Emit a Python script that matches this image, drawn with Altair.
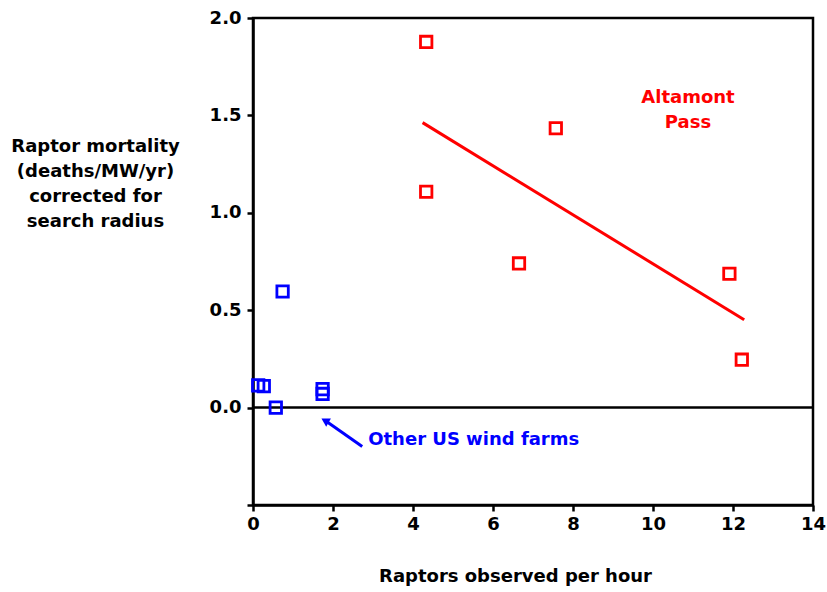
import altair as alt
import pandas as pd

# Altamont Pass observations
alt_x = [4.33, 7.57, 4.33, 6.65, 11.91, 12.22]
alt_y = [1.877, 1.434, 1.108, 0.74, 0.687, 0.246]

# Other US wind farms
other_x = [0.74, 0.13, 0.27, 0.57, 1.74, 1.74]
other_y = [0.596, 0.114, 0.11, 0.0, 0.095, 0.07]

# Regression line through the Altamont Pass sites
fit_x = [4.24, 12.28]
fit_y = [1.463, 0.451]

# Pointer for the "Other US wind farms" label
arrow_x = [2.73, 1.83]
arrow_y = [-0.2, -0.07]

RED = "#ff0000"
BLUE = "#0000ff"
FONT = "DejaVu Sans"
FS = 18

xs = alt.Scale(domain=[0, 14], nice=False, zero=False)
ys = alt.Scale(domain=[-0.5, 2.0], nice=False, zero=False)

x_axis = alt.Axis(
    values=list(range(0, 15, 2)), format="d", grid=False, labelFlush=False,
    domainColor="black", domainWidth=2.5, tickColor="black", tickWidth=2.5,
    tickSize=6, labelFont=FONT, labelFontSize=FS, labelFontWeight="bold",
    labelColor="black", labelPadding=4,
    title="Raptors observed per hour", titleFont=FONT, titleFontSize=FS,
    titleFontWeight="bold", titleColor="black", titlePadding=34,
    titleX=262, titleAlign="center",
)
y_axis = alt.Axis(
    values=[-0.5, 0, 0.5, 1.0, 1.5, 2.0], format=".1f", grid=False, labelFlush=False,
    labelExpr="datum.value < 0 ? '' : format(datum.value, '.1f')",
    domainColor="black", domainWidth=2.5, tickColor="black", tickWidth=2.5,
    tickSize=6, labelFont=FONT, labelFontSize=FS, labelFontWeight="bold",
    labelColor="black", labelPadding=6,
    title=["Raptor mortality", "(deaths/MW/yr)", "corrected for", "search radius"],
    titleFont=FONT, titleFontSize=FS, titleFontWeight="bold", titleColor="black",
    titleAngle=0, titleAlign="center", titleBaseline="top",
    titleX=-158, titleY=119, titleLineHeight=25.3,
)

df_alt = pd.DataFrame({"x": alt_x, "y": alt_y})
df_oth = pd.DataFrame({"x": other_x, "y": other_y})
df_fit = pd.DataFrame({"x": fit_x, "y": fit_y})
df_arrow = pd.DataFrame({"x": arrow_x, "y": arrow_y})

zero_line = alt.Chart(pd.DataFrame({"y": [0.0]})).mark_rule(
    color="black", strokeWidth=2.5
).encode(y=alt.Y("y:Q", scale=ys, axis=y_axis))

red_pts = alt.Chart(df_alt).mark_point(
    shape="square", size=130, filled=False, color=RED, strokeWidth=2.8, opacity=1
).encode(x=alt.X("x:Q", scale=xs, axis=x_axis), y=alt.Y("y:Q", scale=ys))

blue_pts = alt.Chart(df_oth).mark_point(
    shape="square", size=130, filled=False, color=BLUE, strokeWidth=2.8, opacity=1
).encode(x=alt.X("x:Q", scale=xs), y=alt.Y("y:Q", scale=ys))

fit_line = alt.Chart(df_fit).mark_line(color=RED, strokeWidth=3).encode(
    x=alt.X("x:Q", scale=xs), y=alt.Y("y:Q", scale=ys)
)

arrow_shaft = alt.Chart(df_arrow).mark_line(color=BLUE, strokeWidth=3).encode(
    x=alt.X("x:Q", scale=xs), y=alt.Y("y:Q", scale=ys)
)
arrow_head = alt.Chart(df_arrow.tail(1)).mark_point(
    shape="triangle", size=90, filled=True, color=BLUE, angle=300, opacity=1
).encode(x=alt.X("x:Q", scale=xs), y=alt.Y("y:Q", scale=ys))

altamont_label = alt.Chart(pd.DataFrame({"x": [10.875], "y": [1.59], "t": [["Altamont", "Pass"]]})).mark_text(
    color=RED, font=FONT, fontSize=FS, fontWeight="bold", lineHeight=25, align="center", baseline="middle"
).encode(x=alt.X("x:Q", scale=xs), y=alt.Y("y:Q", scale=ys), text="t:N")

other_label = alt.Chart(pd.DataFrame({"x": [2.88], "y": [-0.165], "t": ["Other US wind farms"]})).mark_text(
    color=BLUE, font=FONT, fontSize=FS, fontWeight="bold", align="left", baseline="middle"
).encode(x=alt.X("x:Q", scale=xs), y=alt.Y("y:Q", scale=ys), text="t:N")

chart = alt.layer(
    zero_line, fit_line, red_pts, blue_pts, arrow_shaft, arrow_head,
    altamont_label, other_label,
).properties(
    width=560, height=487,
    autosize=alt.AutoSizeParams(type="none"),
    padding={"left": 253, "top": 18, "right": 14, "bottom": 87},
    background="white",
).configure_view(
    stroke="black", strokeWidth=2.5
)

chart.save("out.html", embed_options={"renderer": "svg", "actions": False})
